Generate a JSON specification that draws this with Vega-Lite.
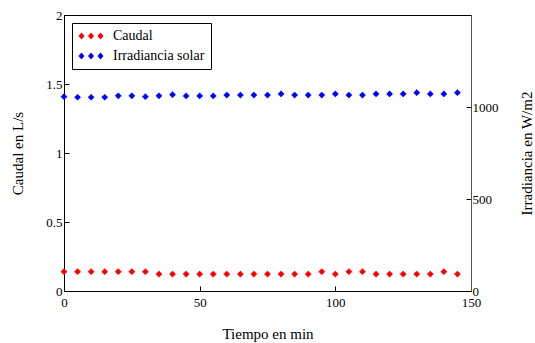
{
  "$schema": "https://vega.github.io/schema/vega-lite/v6.json",
  "width": 407,
  "height": 276,
  "autosize": "none",
  "padding": {"left": 64, "top": 15, "right": 64, "bottom": 52},
  "background": "white",
  "config": {
    "view": {"stroke": "black", "strokeWidth": 1},
    "font": "Liberation Serif",
    "axis": {
      "grid": false,
      "domainColor": "black",
      "tickColor": "black",
      "labelColor": "black",
      "titleColor": "black",
      "labelFont": "Liberation Serif",
      "titleFont": "Liberation Serif",
      "labelFontSize": 13,
      "titleFontSize": 15,
      "titleFontWeight": "normal",
      "tickSize": -5,
      "labelPadding": 7,
      "labelFlush": false
    },
    "legend": {
      "labelFont": "Liberation Serif",
      "labelFontSize": 14,
      "labelColor": "black"
    }
  },
  "data": {
    "values": [
      {"t": 0, "caudal": 0.140, "irr": 1056},
      {"t": 5, "caudal": 0.140, "irr": 1053},
      {"t": 10, "caudal": 0.140, "irr": 1053},
      {"t": 15, "caudal": 0.140, "irr": 1053},
      {"t": 20, "caudal": 0.140, "irr": 1061},
      {"t": 25, "caudal": 0.140, "irr": 1061},
      {"t": 30, "caudal": 0.140, "irr": 1056},
      {"t": 35, "caudal": 0.123, "irr": 1061},
      {"t": 40, "caudal": 0.123, "irr": 1067},
      {"t": 45, "caudal": 0.123, "irr": 1060},
      {"t": 50, "caudal": 0.123, "irr": 1060},
      {"t": 55, "caudal": 0.123, "irr": 1060},
      {"t": 60, "caudal": 0.123, "irr": 1065},
      {"t": 65, "caudal": 0.123, "irr": 1065},
      {"t": 70, "caudal": 0.123, "irr": 1065},
      {"t": 75, "caudal": 0.123, "irr": 1065},
      {"t": 80, "caudal": 0.123, "irr": 1071},
      {"t": 85, "caudal": 0.123, "irr": 1065},
      {"t": 90, "caudal": 0.123, "irr": 1065},
      {"t": 95, "caudal": 0.140, "irr": 1065},
      {"t": 100, "caudal": 0.123, "irr": 1071},
      {"t": 105, "caudal": 0.140, "irr": 1065},
      {"t": 110, "caudal": 0.140, "irr": 1065},
      {"t": 115, "caudal": 0.123, "irr": 1071},
      {"t": 120, "caudal": 0.123, "irr": 1071},
      {"t": 125, "caudal": 0.123, "irr": 1071},
      {"t": 130, "caudal": 0.123, "irr": 1078},
      {"t": 135, "caudal": 0.123, "irr": 1071},
      {"t": 140, "caudal": 0.140, "irr": 1071},
      {"t": 145, "caudal": 0.123, "irr": 1078}
    ]
  },
  "layer": [
    {
      "mark": {"type": "point", "shape": "diamond", "filled": true, "size": 45, "opacity": 1},
      "encoding": {
        "x": {
          "field": "t", "type": "quantitative",
          "scale": {"domain": [0, 150], "nice": false},
          "axis": {"values": [0, 50, 100, 150], "title": "Tiempo en min", "titlePadding": 17, "labelPadding": 10}
        },
        "y": {
          "field": "caudal", "type": "quantitative",
          "scale": {"domain": [0, 2], "nice": false},
          "axis": {"orient": "left", "values": [0, 0.5, 1, 1.5, 2], "format": "~g", "title": "Caudal en L/s", "titlePadding": 20}
        },
        "color": {
          "datum": "Caudal", "type": "nominal",
          "scale": {"domain": ["Caudal", "Irradiancia solar"], "range": ["#ff0000", "#0000ff"]},
          "legend": {
            "orient": "none", "legendX": 8, "legendY": 8, "title": null,
            "strokeColor": "black", "fillColor": "white", "padding": 6, "rowPadding": 6,
            "symbolType": "M-1.625,0L-0.875,-0.875L-0.125,0L-0.875,0.875Z M0.75,0L1.5,-0.875L2.25,0L1.5,0.875Z M3.125,0L3.875,-0.875L4.625,0L3.875,0.875Z",
            "symbolSize": 64, "symbolStrokeWidth": 0, "symbolOpacity": 1, "labelOffset": 21
          }
        }
      }
    },
    {
      "mark": {"type": "point", "shape": "diamond", "filled": true, "size": 45, "opacity": 1},
      "encoding": {
        "x": {"field": "t", "type": "quantitative"},
        "y": {
          "field": "irr", "type": "quantitative",
          "scale": {"domain": [0, 1500], "nice": false},
          "axis": {"orient": "right", "values": [0, 500, 1000], "format": "d", "title": "Irradiancia en W/m2", "titleAngle": -90, "titlePadding": 36, "labelPadding": 6, "domainColor": "#555555"}
        },
        "color": {"datum": "Irradiancia solar", "type": "nominal"}
      }
    }
  ],
  "resolve": {"scale": {"y": "independent"}}
}
